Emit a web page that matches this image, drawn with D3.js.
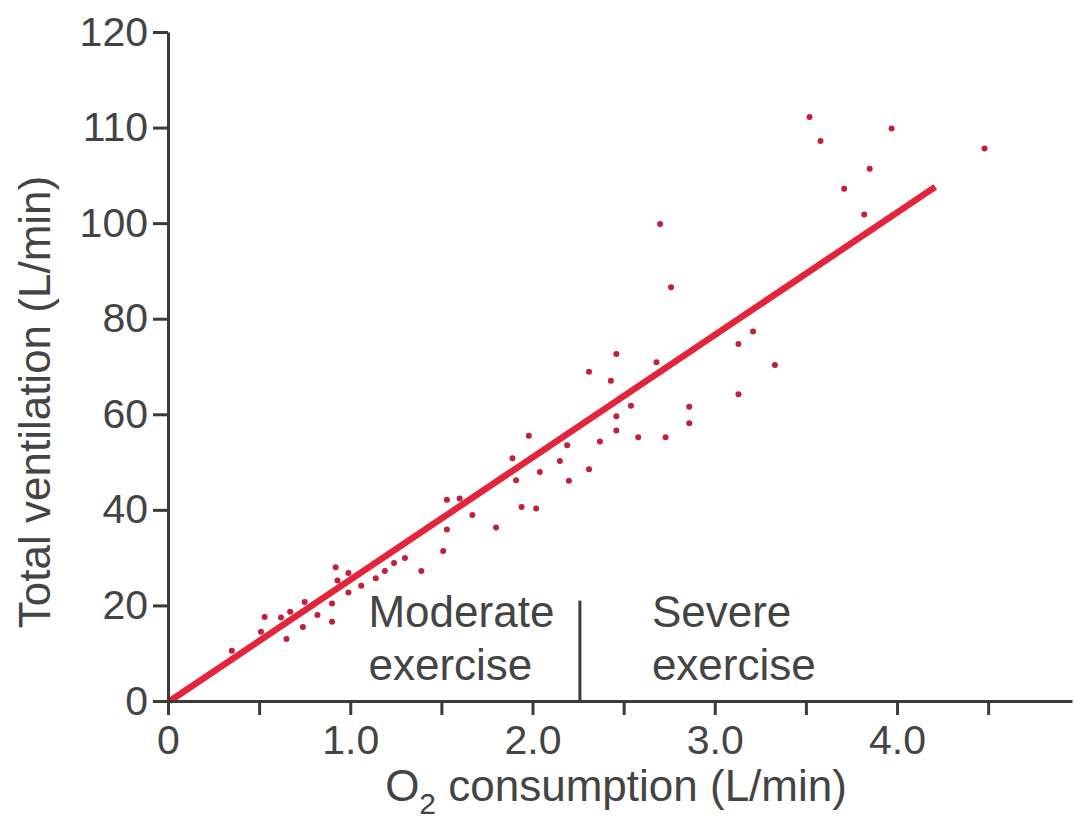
<!DOCTYPE html>
<html>
<head>
<meta charset="utf-8">
<script src="https://cdn.jsdelivr.net/npm/d3@7"></script>
<style>
    body { margin: 0; background: #ffffff; }
    #chart { display: block; }
    .axis_text { font-family: "Liberation Sans", Arial, Helvetica, sans-serif; fill: #444444; }
</style>
</head>
<body>
<svg id="chart" width="1074" height="819"></svg>
<script>
// O2 consumption (L/min) of each measured subject
const o2Consumption = [0.35, 0.51, 0.53, 0.62, 0.65, 0.67, 0.74, 0.75, 0.82, 0.90, 0.90, 0.92, 0.93, 0.99, 0.99,
    1.06, 1.14, 1.19, 1.24, 1.30, 1.39, 1.51, 1.53, 1.53, 1.60, 1.67, 1.80, 1.94, 2.02, 1.91, 2.04, 1.89, 1.98,
    2.15, 2.19, 2.20, 2.31, 2.37, 2.31, 2.43, 2.46, 2.46, 2.46, 2.54, 2.58, 2.68, 2.73, 2.70, 2.76, 2.86, 2.86,
    3.13, 3.13, 3.21, 3.33, 3.52, 3.58, 3.97, 4.48, 3.85, 3.71, 3.82];
// Total ventilation (L/min), same order
const totalVentilation = [10.5, 14.5, 17.6, 17.5, 13.0, 18.7, 15.5, 20.7, 18.0, 20.4, 16.6, 28.0, 25.2, 26.8, 22.7,
    24.1, 25.7, 27.2, 28.9, 29.9, 27.2, 31.4, 35.9, 42.1, 42.4, 38.9, 36.3, 40.6, 40.3, 46.2, 47.9, 50.8, 55.5,
    50.2, 53.5, 46.1, 48.5, 54.3, 68.9, 67.0, 72.6, 59.6, 56.6, 61.8, 55.2, 70.9, 55.2, 99.8, 86.6, 61.6, 58.1,
    64.2, 74.7, 77.3, 70.3, 111.1, 108.6, 109.9, 107.8, 105.7, 103.6, 100.9];

// fitted line, ends
const fitLineX = [0.01, 4.21];
const fitLineY = [0, 103.8];

const yTickValues = [0, 20, 40, 60, 80, 100, 110, 120];
const yTickLabels = ["0", "20", "40", "60", "80", "100", "110", "120"];
const xTickValues = [0, 0.5, 1, 1.5, 2, 2.5, 3, 3.5, 4, 4.5];
const xTickLabels = ["0", "", "1.0", "", "2.0", "", "3.0", "", "4.0", ""];

const dividerX = 2.26;
const dividerTop = 21;

var chart_svg
var xScale
var yScale

function build_chart() {
    chart_svg = d3.select("#chart");

    const margins = {top: 32, right: 2, bottom: 118, left: 168}
    const svg_width = 1074;
    const svg_height = 819;
    const plotBottom = svg_height - margins.bottom;
    const plotTop = margins.top;

    xScale = d3.scaleLinear()
        .domain([0, 4.96])
        .range([margins.left, svg_width - margins.right]);

    // ticks 0..100 then 110, 120 sit at even spacing on the original axis
    yScale = d3.scaleLinear()
        .domain([0, 100, 120])
        .range([plotBottom, plotBottom - 5 * (plotBottom - plotTop) / 7, plotTop]);

    var points = o2Consumption.map((x, i) => ({x: x, y: totalVentilation[i]}));

    // dots first so the fitted line lies over them
    chart_svg.append("g").attr("id", "dots")
        .selectAll("circle")
        .data(points).enter()
        .append("circle")
        .attr("cx", d => xScale(d.x))
        .attr("cy", d => yScale(d.y))
        .attr("r", 3)
        .attr("fill", "#c21f3c");

    chart_svg.append("line")
        .attr("x1", xScale(fitLineX[0]))
        .attr("y1", yScale(fitLineY[0]))
        .attr("x2", xScale(fitLineX[1]))
        .attr("y2", yScale(fitLineY[1]))
        .attr("stroke", "#e3243b")
        .attr("stroke-width", 6.5);

    var xAxis = d3.axisBottom(xScale)
        .tickValues(xTickValues)
        .tickFormat((d, i) => xTickLabels[i])
        .tickSizeInner(14)
        .tickSizeOuter(0)
        .tickPadding(10);

    var yAxis = d3.axisLeft(yScale)
        .tickValues(yTickValues)
        .tickFormat((d, i) => yTickLabels[i])
        .tickSizeInner(15)
        .tickSizeOuter(0)
        .tickPadding(5);

    var gx = chart_svg.append("g")
        .attr("transform", "translate(0," + plotBottom + ")")
        .call(xAxis);
    var gy = chart_svg.append("g")
        .attr("transform", "translate(" + margins.left + ",0)")
        .call(yAxis);

    [gx, gy].forEach(g => {
        g.selectAll("path.domain, line").attr("stroke", "#3b3b3b").attr("stroke-width", 3);
        g.selectAll("text")
            .attr("class", "axis_text")
            .style("font-size", "41px")
            .attr("fill", "#444444");
    });

    // divider between moderate and severe exercise
    chart_svg.append("line")
        .attr("x1", xScale(dividerX))
        .attr("x2", xScale(dividerX))
        .attr("y1", yScale(dividerTop))
        .attr("y2", plotBottom)
        .attr("stroke", "#3b3b3b")
        .attr("stroke-width", 3);

    var notes = [
        {x: xScale(1.10), lines: ["Moderate", "exercise"]},
        {x: xScale(2.655), lines: ["Severe", "exercise"]}
    ];
    notes.forEach(n => {
        chart_svg.append("text")
            .attr("class", "axis_text")
            .attr("x", n.x)
            .attr("y", 627)
            .style("font-size", "44px")
            .text(n.lines[0]);
        chart_svg.append("text")
            .attr("class", "axis_text")
            .attr("x", n.x)
            .attr("y", 680)
            .style("font-size", "44px")
            .text(n.lines[1]);
    });

    // axis titles
    var xTitle = chart_svg.append("text")
        .attr("class", "axis_text")
        .attr("x", 616)
        .attr("y", 801)
        .attr("text-anchor", "middle")
        .style("font-size", "44px");
    xTitle.append("tspan").text("O");
    xTitle.append("tspan").attr("dy", 13).style("font-size", "30px").text("2");
    xTitle.append("tspan").attr("dy", -13).text(" consumption (L/min)");

    chart_svg.append("text")
        .attr("class", "axis_text")
        .attr("transform", "translate(50,402) rotate(-90)")
        .attr("text-anchor", "middle")
        .style("font-size", "44px")
        .text("Total ventilation (L/min)");
}

build_chart();
</script>
</body>
</html>
